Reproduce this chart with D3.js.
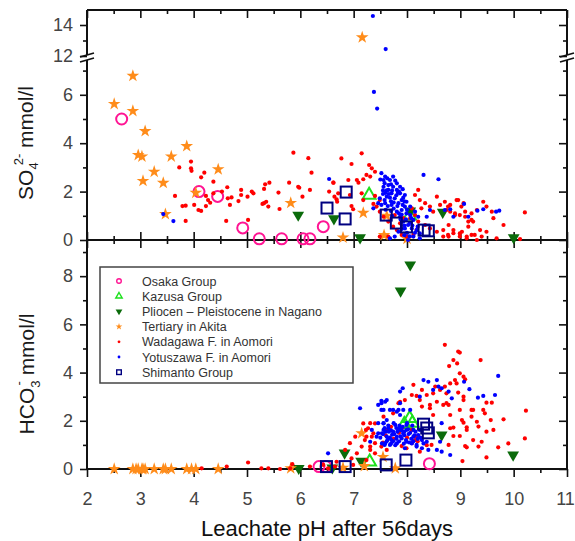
<!DOCTYPE html>
<html>
<head>
<meta charset="utf-8">
<script src="https://cdn.jsdelivr.net/npm/d3@7"></script>
<style>
body { margin: 0; background: #fff; }
svg { display: block; font-family: "Liberation Sans", Arial, sans-serif; }
</style>
</head>
<body>
<svg id="chart" width="575" height="541"></svg>
<script>
// [leachate pH, concentration mmol/l]
var osakaTop = [[2.65,5.0],[4.1,2.0],[4.45,1.8],[4.92,0.5],[5.23,0.05],[5.65,0.05],[6.05,0.05],[6.18,0.05],[6.43,0.55]];
var kazusaTop = [[7.29,1.86],[8.05,1.0]];
var pliocenTop = [[5.96,1.03],[6.63,0.88],[7.12,0.1],[8.06,1.2],[8.67,1.15],[10.0,0.1]];
var akitaTop = [[2.51,5.62],[2.86,6.78],[2.86,5.33],[3.09,4.5],[2.96,3.51],[3.03,3.45],[3.05,2.44],[3.26,2.82],[3.43,2.36],[3.58,3.45],[3.87,3.88],[3.47,1.07],[4.04,1.95],[4.46,2.92],[5.82,1.53],[7.16,13.2],[7.18,1.12],[6.8,0.1],[7.57,0.2],[7.62,1.0],[8.0,0.05]];
var wadagawaTop = [[3.95,3.24],[3.95,2.96],[3.96,2.86],[3.73,3.0],[4.14,2.59],[4.2,2.78],[3.65,1.82],[3.79,1.4],[3.85,1.42],[4.01,1.45],[4.09,1.24],[4.14,1.2],[3.85,0.79],[4.23,1.82],[4.27,1.65],[4.31,1.54],[4.23,1.4],[4.37,1.93],[4.37,2.41],[4.53,2.0],[4.63,2.18],[4.64,1.72],[4.71,1.76],[4.84,1.61],[4.68,1.45],[4.89,2.07],[4.89,1.86],[5.01,1.79],[5.09,2.0],[5.12,1.93],[4.61,0.79],[5.02,0.83],[5.34,2.3],[5.42,2.37],[5.32,2.11],[5.32,1.52],[5.36,1.58],[5.4,1.38],[5.29,1.49],[5.59,1.96],[5.61,1.28],[5.79,2.37],[5.87,3.61],[5.98,2.16],[6.04,1.79],[6.21,2.78],[6.18,2.07],[6.54,2.0],[6.62,2.37],[6.64,1.79],[6.68,1.68],[6.15,3.38],[5.96,2.2],
  [7.15,3.58],[6.77,3.37],[6.96,3.14],[7.29,3.1],[7.34,2.96],[7.4,2.82],[7.24,2.69],[7.31,2.62],[7.18,2.51],[7.06,2.48],[7.09,2.37],[6.9,2.48],[6.62,2.37],[6.71,1.93],[6.69,1.58],[6.93,1.86],[6.96,1.4],[6.99,1.27],[7.18,1.65],[7.15,1.93],[7.4,1.82],[7.49,1.65],[7.37,1.49],[7.43,1.38],[7.49,1.17],[7.56,0.96],[7.65,0.76],[7.74,0.55],[7.81,0.41],[7.9,0.21],[7.99,0.14],[7.65,0.14],[7.49,0.14],[7.87,0.69],[8.06,0.9],[8.15,1.03],[8.21,0.76],[8.24,1.65],[8.21,2.07],[8.34,1.52],[8.43,1.38],[8.49,1.17],[8.56,1.79],[8.62,1.45],[8.71,1.58],[8.77,1.38],[8.81,1.17],[8.9,1.03],[8.96,1.65],[9.02,1.38],[9.09,0.96],[9.15,0.76],[9.21,0.83],[9.31,1.24],[9.27,0.21],[9.12,0.14],[8.99,0.27],[8.87,0.41],[8.77,0.21],[8.68,0.14],[8.56,0.34],[8.43,0.48],[8.34,0.62],[8.18,0.41],[8.12,0.21],[8.09,1.31],[7.93,0.9],[7.77,1.03],[8.15,1.86],[8.27,1.31],
  [8.93,1.65],[9.06,1.52],[8.81,1.45],[8.74,1.24],[8.9,1.1],[8.99,1.03],[9.09,1.17],[9.21,1.1],[9.43,1.58],[9.49,1.38],[9.59,1.17],[9.62,0.9],[9.81,0.62],[9.37,0.41],[9.24,0.76],[9.15,0.55],[9.03,0.34],[8.87,0.28],[8.78,0.14],[8.99,0.14],[9.21,0.21],[9.4,0.14],[9.49,0.34],[10.21,1.14],[10.12,0.04],[9.68,0.07],[9.31,0.0],[9.12,0.07],[8.78,0.62],[8.68,0.41]];
var yotuszawaTop = [[7.36,14.58],[7.6,12.45],[7.38,6.12],[7.44,5.43],[3.43,1.07],[3.62,0.78],[6.54,2.52],
  [7.52,2.76],[7.59,2.62],[7.68,2.48],[7.65,2.27],[7.56,2.2],[7.74,2.2],[7.81,2.07],[7.87,1.93],[7.71,1.93],[7.62,1.79],[7.49,1.72],[7.77,1.72],[7.9,1.65],[7.84,1.52],[7.71,1.45],[7.59,1.52],[7.96,1.38],[7.9,1.24],[7.99,1.1],[7.81,1.17],[8.06,1.03],[8.12,0.83],[7.93,0.76],[8.02,0.62],[8.09,0.48],[8.18,0.41],[8.24,0.27],[8.12,0.14],[7.77,0.14],[7.68,0.07],[8.31,2.69],[8.59,2.51],[8.02,0.0],[8.24,0.07],[7.46,1.52],[7.37,1.31],[8.15,1.17],[8.21,0.96],[8.43,1.24],[8.37,0.96],[8.71,1.24],[7.56,2.48],[7.65,2.07],[7.81,2.34],[7.74,2.62],[7.87,2.2],[7.96,1.86],[7.99,1.58],[8.06,1.38],[7.87,0.96],[7.96,0.48],[7.84,0.34],
  [7.55,1.9],[7.7,1.6],[7.75,1.3],[7.8,1.85],[7.92,1.45],[7.98,0.85],[8.05,0.7],[7.85,1.1],[7.62,2.05],[7.68,1.75],[7.9,1.05],[8.0,0.3],[8.15,0.3],[7.95,0.2],
  [7.5,2.5],[7.58,2.35],[7.63,2.55],[7.7,2.3],[7.78,2.45],[7.72,2.05],[7.6,1.95],[7.66,1.9],[7.83,1.95],[7.93,1.75],[7.75,1.55],[7.58,1.65],[7.64,1.4],[7.82,1.4],[7.7,1.2],[7.95,1.6],[8.0,1.25],[7.88,0.85],[7.95,0.6],[8.08,0.9],[8.1,0.6],[8.2,0.55],[7.9,0.45],[8.05,0.15],[7.72,1.0],[7.6,1.25],[7.52,1.45],[7.85,2.0],[7.92,2.1],[7.55,2.05],
  [9.07,1.49],[9.32,1.21],[9.43,1.27],[9.67,1.17],[9.73,1.21],[9.15,0.96],[8.87,0.96],[8.81,1.27]];
var shimantoTop = [[6.5,1.32],[6.86,1.98],[6.84,0.87],[7.61,1.03],[7.8,0.7],[7.99,0.54],[8.32,0.41],[8.4,0.38]];

var osakaBot = [[6.35,0.1],[6.48,0.1],[8.42,0.22]];
var kazusaBot = [[7.3,0.3],[7.95,1.85],[8.05,2.1],[8.1,1.9]];
var pliocenBot = [[5.97,0.03],[6.6,0.05],[6.83,0.67],[7.14,0.33],[7.88,7.39],[8.06,8.47],[8.65,1.41],[9.99,0.58]];
var akitaBot = [[2.51,0],[2.86,0],[2.92,0],[2.96,0],[3.03,0],[3.05,0],[3.09,0],[3.26,0],[3.43,0],[3.47,0],[3.58,0],[3.87,0],[3.96,0],[4.04,0],[4.46,0],[5.82,0.03],[6.8,0.05],[7.15,1.48],[7.2,0.12],[7.55,0.5],[7.78,0.03]];
var wadagawaBot = [[8.71,5.15],[8.96,4.87],[8.99,4.83],[8.87,4.52],[8.79,4.27],[8.94,4.38],[9.38,4.52],[8.99,3.97],[9.06,3.83],[9.09,3.72],[8.9,3.69],[8.81,3.55],[8.93,3.55],[8.71,3.42],[8.96,3.17],[8.74,3.14],[9.06,3.0],[9.06,2.86],[8.74,2.73],[8.78,2.66],[8.68,2.66],[8.99,2.45],[9.21,2.45],[9.24,2.45],[9.43,2.45],[9.49,2.75],[9.59,2.75],[9.46,2.31],[10.23,2.42],[8.81,2.24],[9.21,2.17],[9.03,2.03],[9.81,2.06],[9.57,2.03],[9.06,1.92],[9.31,1.96],[9.12,1.73],[8.87,1.72],[8.81,1.69],[9.34,1.76],[9.49,1.55],[9.62,1.62],[9.12,1.62],[8.99,1.37],[8.87,1.37],[9.24,1.2],[9.4,1.13],[9.09,0.95],[9.12,0.9],[9.34,0.93],[8.78,1.0],[9.71,0.9],[9.9,1.06],[10.21,1.27],[9.49,0.48],[9.04,0.33],
  [8.28,3.28],[8.12,3.49],[8.49,3.14],[8.37,3.07],[8.53,3.42],[8.62,3.28],[8.24,2.86],[7.96,2.86],[8.09,3.07],[8.43,2.52],[8.49,2.24],[7.87,2.79],[8.15,1.2],[8.46,1.0],[7.74,2.31],[7.62,1.62],
  [7.31,1.9],[7.23,1.62],[7.34,1.34],[7.4,1.07],[7.31,0.93],[7.9,1.69],[8.09,1.62],[8.18,1.34],[8.09,1.07],[7.99,0.86],[8.24,0.72],[8.37,0.99],[7.84,2.73],[7.56,2.17],[7.37,1.48],[6.93,1.07],[7.03,1.34],[8.18,3.03],[8.43,2.66],[8.56,2.79],[8.28,2.59],
  [7.27,1.69],[7.21,1.2],[6.84,0.79],[7.06,0.65],[7.15,0.93],[7.31,0.79],[7.4,0.65],[6.96,0.44],[6.68,0.3],[6.43,0.17],[6.18,0.1],[5.81,0.03],[5.62,0.0],[5.4,0.03],[5.27,0.03],[7.18,1.89],[7.4,1.89],[7.24,1.34],[7.52,0.93],[7.62,0.79],[6.65,0.1],[6.99,0.17],[6.52,0.03],[7.24,0.37],
  [4.15,0.03],[4.62,0.1],[5.02,0.27],[5.85,0.2],
  [7.6,1.4],[7.75,1.25],[7.85,1.5],[8.0,1.3],[7.7,1.75],[8.2,1.15],[7.55,1.1],[7.9,0.95]];
var yotuszawaBot = [[9.71,3.86],[9.07,3.62],[9.17,3.31],[8.78,3.21],[8.65,3.35],[8.84,2.93],[9.33,2.96],[9.43,3.03],[9.65,3.07],[8.65,1.9],[8.65,0.72],[8.81,0.58],
  [8.31,3.69],[8.4,3.62],[8.56,3.69],[8.59,3.42],[8.49,3.28],[8.24,3.0],[7.92,3.35],[7.87,3.21],[7.62,2.86],[7.52,2.83],[7.87,2.73],[7.74,2.45],[7.81,2.38],[7.93,2.45],[8.06,2.45],[7.62,2.03],[7.56,2.45],
  [7.56,1.62],[7.65,1.69],[7.74,1.55],[7.84,1.62],[7.93,1.48],[7.99,1.62],[8.12,1.34],[8.21,1.41],[8.28,1.2],[8.37,1.13],[7.62,1.34],[7.71,1.2],[7.81,1.34],[7.9,1.27],[7.99,1.13],[7.59,1.06],[7.68,1.0],[7.81,1.06],[8.09,1.06],[8.18,1.0],[8.28,0.86],[8.4,0.79],[7.87,1.69],[7.78,1.83],[7.56,1.9],[8.12,1.62],[7.99,1.83],[8.24,1.62],[7.53,1.48],[7.96,0.86],
  [7.58,1.7],[7.66,1.55],[7.72,1.42],[7.8,1.7],[7.88,1.35],[7.95,1.55],[8.03,1.45],[8.1,1.8],[8.16,1.55],[8.25,1.3],[7.62,1.15],[7.7,1.05],[7.85,1.15],[7.92,1.75],[8.0,1.9],[7.75,1.9],[7.68,1.3],[7.98,1.2],[8.08,1.25],[7.5,1.3],
  [7.55,1.45],[7.6,1.55],[7.65,1.8],[7.7,1.6],[7.76,1.45],[7.82,1.55],[7.86,1.8],[7.9,1.6],[7.95,1.4],[8.02,1.65],[8.06,1.5],[8.14,1.4],[8.2,1.25],[7.64,1.22],[7.74,1.15],[7.8,1.25],[7.94,1.05],[8.04,1.1],[8.12,1.15],[7.58,1.0],
  [7.12,2.52],[7.46,2.66],[7.52,2.45],[7.59,2.79],[7.34,1.62],[7.46,1.48],[6.52,0.65],[7.31,1.13],[7.52,2.73],[7.68,2.45],[7.84,2.45],[7.87,2.24],[7.46,1.9],[7.43,1.34],[7.53,1.06],[7.78,0.99],[8.18,0.93],[8.31,1.06],[8.56,0.79],[8.62,1.13],[7.56,1.89]];
var shimantoBot = [[6.49,0.1],[6.84,0.1],[7.61,0.17],[7.98,0.37],[8.31,1.86],[8.37,1.7],[8.4,1.5]];

var xMajor = [2,3,4,5,6,7,8,9,10,11];
var xMinor = [2.5,3.5,4.5,5.5,6.5,7.5,8.5,9.5,10.5];
var topMajor = [0,2,4,6], topMinor = [1,3,5,7];
var topHighMajor = [12,14], topHighMinor = [13];
var botMajor = [0,2,4,6,8], botMinor = [1,3,5,7,9];
var legendNames = ["Osaka Group","Kazusa Group","Pliocen \u2013 Pleistocene in Nagano","Tertiary in Akita","Wadagawa F. in Aomori","Yotuszawa F. in Aomori","Shimanto Group"];

var pink = "#ff1493", lime = "#1ee01e", dkgreen = "#0b6b0b", orange = "#ff8c1a", red = "#ff0000", blue = "#0000ff", navy = "#000080";

var svg = d3.select("#chart");
var x = d3.scaleLinear().domain([2, 11]).range([87, 567]);
var yLow = d3.scaleLinear().domain([0, 7.45]).range([240, 59.7]);
var yHigh = d3.scaleLinear().domain([12, 15]).range([56, 9.5]);
var yBot = d3.scaleLinear().domain([0, 9.5]).range([469, 240]);
function yTop(v) { return v >= 10 ? yHigh(v) : yLow(v); }

function styleAxis(g) {
    g.select(".domain").remove();
    g.attr("font-size", null).attr("font-family", null);
    g.selectAll(".tick line").attr("stroke", "#111").attr("stroke-width", 1.6);
    g.selectAll(".tick text").attr("fill", "#444").style("font-size", "18px");
}
function addAxis(axis, tx, ty) {
    var g = svg.append("g").attr("transform", "translate(" + tx + "," + ty + ")").call(axis);
    styleAxis(g);
    return g;
}

// x axes
var xb = addAxis(d3.axisBottom(x).tickValues(xMajor).tickSize(8).tickPadding(15).tickFormat(d3.format("d")), 0, 469);
xb.selectAll(".tick text").filter(function (d) { return d == 11; }).attr("dx", -2);
addAxis(d3.axisBottom(x).tickValues(xMinor).tickSize(4).tickFormat(""), 0, 469);
addAxis(d3.axisBottom(x).tickValues(xMajor).tickSize(8).tickFormat(""), 0, 10);
addAxis(d3.axisBottom(x).tickValues(xMinor).tickSize(4).tickFormat(""), 0, 10);
addAxis(d3.axisTop(x).tickValues(xMajor).tickSize(8).tickFormat(""), 0, 240);
addAxis(d3.axisTop(x).tickValues(xMinor).tickSize(4).tickFormat(""), 0, 240);
addAxis(d3.axisBottom(x).tickValues(xMajor).tickSize(8).tickFormat(""), 0, 240);
addAxis(d3.axisBottom(x).tickValues(xMinor).tickSize(4).tickFormat(""), 0, 240);

// y axes left (outward, labelled) and right (inward)
[[yLow, topMajor, topMinor], [yHigh, topHighMajor, topHighMinor], [yBot, botMajor, botMinor]].forEach(function (s) {
    addAxis(d3.axisLeft(s[0]).tickValues(s[1]).tickSize(7).tickPadding(7).tickFormat(d3.format("d")), 87, 0);
    addAxis(d3.axisLeft(s[0]).tickValues(s[2]).tickSize(4).tickFormat(""), 87, 0);
    addAxis(d3.axisLeft(s[0]).tickValues(s[1]).tickSize(8).tickFormat(""), 567, 0);
    addAxis(d3.axisLeft(s[0]).tickValues(s[2]).tickSize(4).tickFormat(""), 567, 0);
});

// frame
var frame = svg.append("g").attr("stroke", "#111").attr("stroke-width", 2).attr("fill", "none");
[[87,10,567,10],[87,240,567,240],[87,469,567,469],[87,10,87,55],[87,60,87,469],[567,10,567,55],[567,60,567,469]].forEach(function (l) {
    frame.append("line").attr("x1", l[0]).attr("y1", l[1]).attr("x2", l[2]).attr("y2", l[3]);
});
[87, 567].forEach(function (cx) {
    frame.append("line").attr("x1", cx - 7).attr("y1", 57).attr("x2", cx + 7).attr("y2", 53).attr("stroke-width", 1.6);
    frame.append("line").attr("x1", cx - 7).attr("y1", 62).attr("x2", cx + 7).attr("y2", 58).attr("stroke-width", 1.6);
});

// markers
var star = d3.symbol().type(d3.symbolStar);
var tri = d3.symbol().type(d3.symbolTriangle);

function drawPanel(y, osaka, kazusa, pliocen, akita, wada, yotu, shima) {
    var g = svg.append("g");
    g.selectAll(".osaka").data(osaka).enter().append("circle")
        .attr("cx", function (d) { return x(d[0]); }).attr("cy", function (d) { return y(d[1]); })
        .attr("r", 5.5).attr("fill", "none").attr("stroke", pink).attr("stroke-width", 2);
    g.selectAll(".kazusa").data(kazusa).enter().append("path")
        .attr("d", tri.size(70)())
        .attr("transform", function (d) { return "translate(" + x(d[0]) + "," + y(d[1]) + ")"; })
        .attr("fill", "none").attr("stroke", lime).attr("stroke-width", 2);
    g.selectAll(".pliocen").data(pliocen).enter().append("path")
        .attr("d", tri.size(60)())
        .attr("transform", function (d) { return "translate(" + x(d[0]) + "," + y(d[1]) + ") rotate(180)"; })
        .attr("fill", dkgreen);
    g.selectAll(".akita").data(akita).enter().append("path")
        .attr("d", star.size(50)())
        .attr("transform", function (d) { return "translate(" + x(d[0]) + "," + y(d[1]) + ")"; })
        .attr("fill", orange);
    g.selectAll(".wada").data(wada).enter().append("circle")
        .attr("cx", function (d) { return x(d[0]); }).attr("cy", function (d) { return y(d[1]); })
        .attr("r", 2.1).attr("fill", red);
    g.selectAll(".yotu").data(yotu).enter().append("circle")
        .attr("cx", function (d) { return x(d[0]); }).attr("cy", function (d) { return y(d[1]); })
        .attr("r", 2.1).attr("fill", blue);
    g.selectAll(".shima").data(shima).enter().append("rect")
        .attr("x", function (d) { return x(d[0]) - 5.5; }).attr("y", function (d) { return y(d[1]) - 5.5; })
        .attr("width", 11).attr("height", 11).attr("fill", "none").attr("stroke", navy).attr("stroke-width", 2);
}
drawPanel(yTop, osakaTop, kazusaTop, pliocenTop, akitaTop, wadagawaTop, yotuszawaTop, shimantoTop);
drawPanel(yBot, osakaBot, kazusaBot, pliocenBot, akitaBot, wadagawaBot, yotuszawaBot, shimantoBot);

// legend
var lg = svg.append("g");
lg.append("rect").attr("x", 100).attr("y", 267).attr("width", 253).attr("height", 116)
    .attr("fill", "#fff").attr("stroke", "#444").attr("stroke-width", 1.5);
legendNames.forEach(function (name, i) {
    var cy = 281 + i * 15.2, cx = 119;
    if (i == 0) lg.append("circle").attr("cx", cx).attr("cy", cy).attr("r", 2.3).attr("fill", "none").attr("stroke", pink).attr("stroke-width", 1.4);
    if (i == 1) lg.append("path").attr("d", tri.size(18)()).attr("transform", "translate(" + cx + "," + cy + ")").attr("fill", "none").attr("stroke", lime).attr("stroke-width", 1.4);
    if (i == 2) lg.append("path").attr("d", tri.size(20)()).attr("transform", "translate(" + cx + "," + cy + ") rotate(180)").attr("fill", dkgreen);
    if (i == 3) lg.append("path").attr("d", star.size(14)()).attr("transform", "translate(" + cx + "," + cy + ")").attr("fill", orange);
    if (i == 4) lg.append("circle").attr("cx", cx).attr("cy", cy).attr("r", 1.4).attr("fill", red);
    if (i == 5) lg.append("circle").attr("cx", cx).attr("cy", cy).attr("r", 1.4).attr("fill", blue);
    if (i == 6) lg.append("rect").attr("x", cx - 2.3).attr("y", cy - 2.3).attr("width", 4.6).attr("height", 4.6).attr("fill", "none").attr("stroke", navy).attr("stroke-width", 1.4);
    lg.append("text").attr("x", 142).attr("y", cy + 4.5).attr("fill", "#333").style("font-size", "12.5px").text(name);
});

// axis titles
var t1 = svg.append("text").attr("transform", "translate(33,143) rotate(-90)").attr("text-anchor", "middle")
    .attr("fill", "#1a1a1a").style("font-size", "21px");
t1.append("tspan").text("SO");
t1.append("tspan").attr("dy", 5).style("font-size", "13px").text("4");
t1.append("tspan").attr("dx", -3).attr("dy", -15).style("font-size", "13px").text("2-");
t1.append("tspan").attr("dy", 10).text(" mmol/l");

var t2 = svg.append("text").attr("transform", "translate(34,374) rotate(-90)").attr("text-anchor", "middle")
    .attr("fill", "#1a1a1a").style("font-size", "21px");
t2.append("tspan").text("HCO");
t2.append("tspan").attr("dy", 6).style("font-size", "13px").text("3");
t2.append("tspan").attr("dx", -5).attr("dy", -17).style("font-size", "13px").text("-");
t2.append("tspan").attr("dy", 11).text(" mmol/l");

svg.append("text").attr("x", 327).attr("y", 536).attr("text-anchor", "middle")
    .attr("fill", "#111").style("font-size", "22px").text("Leachate pH after 56days");
</script>
</body>
</html>
